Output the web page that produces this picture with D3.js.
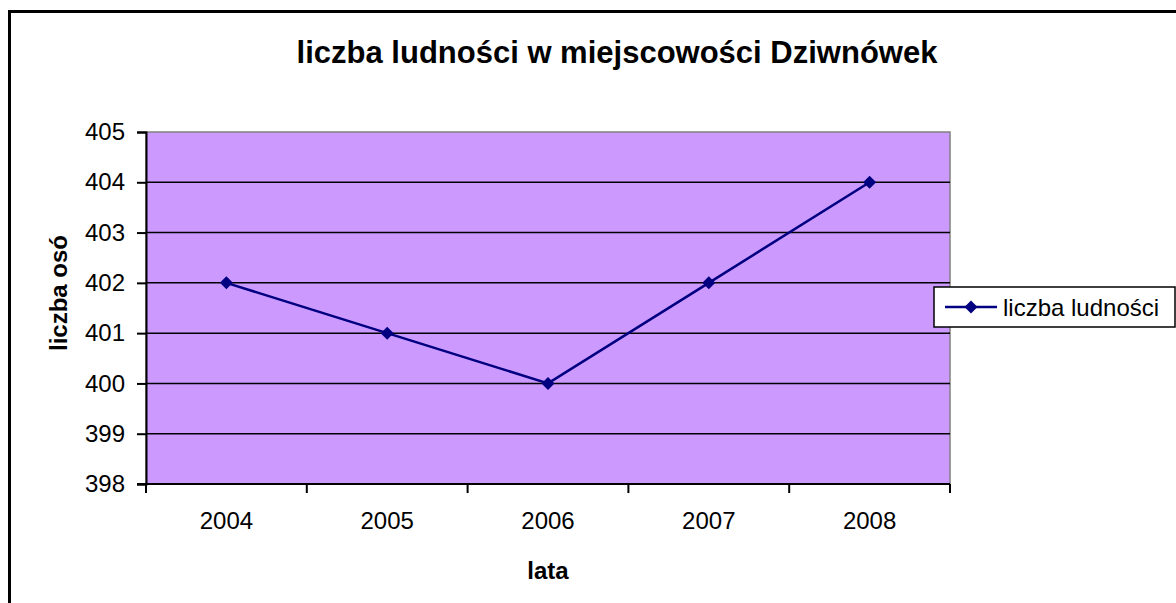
<!DOCTYPE html>
<html>
<head>
<meta charset="utf-8">
<script src="https://cdn.jsdelivr.net/npm/d3@7"></script>
<style>
  body { margin: 0; background: #fff; }
  text { font-family: Arial, "Liberation Sans", sans-serif; fill: #000; }
</style>
</head>
<body>
<div id="chart"></div>
<script>
// data
const years = ["2004", "2005", "2006", "2007", "2008"];
const population = [402, 401, 400, 402, 404];
const yTicks = [398, 399, 400, 401, 402, 403, 404, 405];
const seriesName = "liczba ludności";

const W = 1176, H = 603;
const plot = {left: 146, right: 950, top: 132, bottom: 484};

const svg = d3.select("#chart")
    .append("svg")
    .attr("width", W)
    .attr("height", H);

// chart area border (right/bottom edges run off the picture)
svg.append("path")
    .attr("d", `M9.5,${H + 20}V11.5H${W + 20}`)
    .attr("fill", "none")
    .attr("stroke", "#000")
    .attr("stroke-width", 3);

const x = d3.scaleBand()
    .domain(years)
    .range([plot.left, plot.right]);

const y = d3.scaleLinear()
    .domain([398, 405])
    .range([plot.bottom, plot.top]);

// plot background
svg.append("rect")
    .attr("x", plot.left)
    .attr("y", plot.top)
    .attr("width", plot.right - plot.left)
    .attr("height", plot.bottom - plot.top)
    .attr("fill", "#cc99ff")
    .attr("stroke", "#808080")
    .attr("stroke-width", 1.5);

// gridlines
svg.append("g")
    .selectAll("line")
    .data(yTicks.slice(1, -1))
    .enter().append("line")
    .attr("x1", plot.left)
    .attr("x2", plot.right)
    .attr("y1", d => y(d))
    .attr("y2", d => y(d))
    .attr("stroke", "#000")
    .attr("stroke-width", 1.5);

// y axis
const yAxis = svg.append("g")
    .attr("transform", `translate(${plot.left},0)`)
    .call(d3.axisLeft(y).tickValues(yTicks).tickFormat(d3.format("d")).tickSize(9).tickPadding(12));
yAxis.selectAll("line, path").attr("stroke", "#000").attr("stroke-width", 2);
yAxis.selectAll("text")
    .attr("font-size", 24)
    .attr("font-family", "Arial, 'Liberation Sans', sans-serif");

// x axis with ticks between categories
const xAxis = svg.append("g")
    .attr("transform", `translate(0,${plot.bottom})`);
xAxis.append("line")
    .attr("x1", plot.left - 9)
    .attr("x2", plot.right)
    .attr("stroke", "#000")
    .attr("stroke-width", 2);
xAxis.selectAll(".tk")
    .data(years.concat(["end"]))
    .enter().append("line")
    .attr("class", "tk")
    .attr("x1", (d, i) => i < years.length ? x(d) : plot.right)
    .attr("x2", (d, i) => i < years.length ? x(d) : plot.right)
    .attr("y1", 0)
    .attr("y2", 9)
    .attr("stroke", "#000")
    .attr("stroke-width", 2);
xAxis.selectAll(".lbl")
    .data(years)
    .enter().append("text")
    .attr("class", "lbl")
    .attr("x", d => x(d) + x.bandwidth() / 2)
    .attr("y", 45)
    .attr("text-anchor", "middle")
    .attr("font-size", 24)
    .text(d => d);

// series line
const line = d3.line()
    .x((d, i) => x(years[i]) + x.bandwidth() / 2)
    .y(d => y(d));

svg.append("path")
    .datum(population)
    .attr("d", line)
    .attr("fill", "none")
    .attr("stroke", "#000080")
    .attr("stroke-width", 2.5);

const diamond = d3.symbol().type(d3.symbolDiamond2).size(108);

svg.append("g")
    .selectAll("path")
    .data(population)
    .enter().append("path")
    .attr("d", diamond)
    .attr("transform", (d, i) => `translate(${x(years[i]) + x.bandwidth() / 2},${y(d)})`)
    .attr("fill", "#000080");

// title
svg.append("text")
    .attr("x", 617)
    .attr("y", 63)
    .attr("text-anchor", "middle")
    .attr("font-size", 31)
    .attr("font-weight", "bold")
    .text("liczba ludności w miejscowości Dziwnówek");

// axis titles
svg.append("text")
    .attr("x", (plot.left + plot.right) / 2)
    .attr("y", 579)
    .attr("text-anchor", "middle")
    .attr("font-size", 24)
    .attr("font-weight", "bold")
    .text("lata");

svg.append("text")
    .attr("transform", "translate(67,293) rotate(-90)")
    .attr("text-anchor", "middle")
    .attr("font-size", 24)
    .attr("font-weight", "bold")
    .text("liczba osó");

// legend
const legend = svg.append("g").attr("transform", "translate(934,287)");
legend.append("rect")
    .attr("width", 241)
    .attr("height", 40)
    .attr("fill", "#fff")
    .attr("stroke", "#000")
    .attr("stroke-width", 1.5);
legend.append("line")
    .attr("x1", 11)
    .attr("x2", 63)
    .attr("y1", 20)
    .attr("y2", 20)
    .attr("stroke", "#000080")
    .attr("stroke-width", 2.5);
legend.append("path")
    .attr("d", diamond)
    .attr("transform", "translate(37,20)")
    .attr("fill", "#000080");
legend.append("text")
    .attr("x", 69)
    .attr("y", 29)
    .attr("font-size", 24)
    .text(seriesName);
</script>
</body>
</html>
